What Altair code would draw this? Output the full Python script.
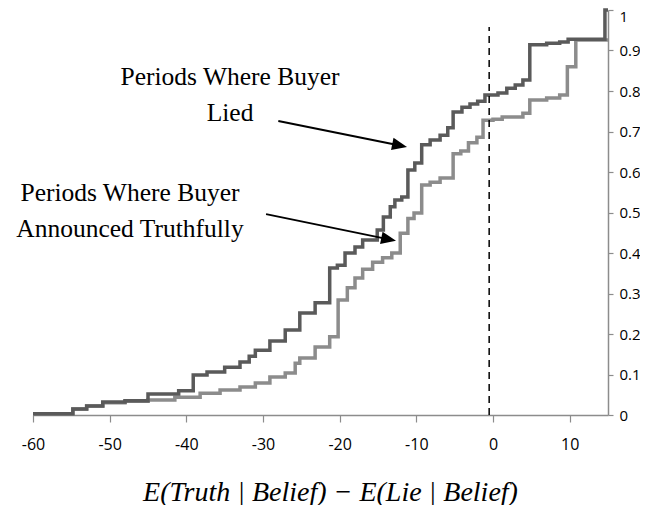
import altair as alt
import pandas as pd

# ---- data ----
lied_x = [-60, -54.8, -53, -50.9, -48, -45, -41, -39.1, -37.3, -35, -33, -31.8, -31, -29.1,
          -27.1, -25.2, -23.2, -21.3, -20.3, -19.3, -18, -17, -15.1, -14.3, -13.4, -12.8,
          -11.9, -11.1, -10.2, -9.3, -8.2, -6.9, -5.9, -5.2, -4.05, -3, -2, -1.05, 0.65,
          1.8, 2.9, 3.9, 4.8, 7, 8.7, 9.8, 14.6, 15]
lied_y = [0.003, 0.015, 0.022, 0.032, 0.035, 0.052, 0.06, 0.099, 0.106, 0.118, 0.131, 0.145,
          0.16, 0.183, 0.21, 0.252, 0.277, 0.363, 0.37, 0.40, 0.415, 0.432, 0.457, 0.489,
          0.514, 0.531, 0.538, 0.605, 0.622, 0.667, 0.679, 0.691, 0.709, 0.748, 0.76, 0.768,
          0.775, 0.79, 0.795, 0.807, 0.815, 0.827, 0.914, 0.918, 0.921, 0.928, 1.0, 1.0]

truth_x = [-60, -54.8, -53, -50.9, -48, -45, -41.5, -38.2, -35.6, -33, -31, -29.1, -27.1,
           -25.8, -25.2, -23.2, -21.3, -20.2, -19, -18, -17, -15.7, -14.4, -13.2, -12.1,
           -11.1, -10.3, -9.3, -8.2, -6.9, -5.2, -4.2, -3.2, -2.1, -1.3, 0, 1.2, 3.9, 4.8,
           7, 8.7, 9.7, 10.8, 15]
truth_y = [0.003, 0.015, 0.022, 0.030, 0.034, 0.037, 0.044, 0.054, 0.062, 0.069, 0.079,
           0.094, 0.104, 0.128, 0.141, 0.168, 0.193, 0.284, 0.314, 0.338, 0.36, 0.377, 0.388,
           0.40, 0.449, 0.485, 0.499, 0.568, 0.575, 0.585, 0.645, 0.652, 0.672, 0.686, 0.728,
           0.73, 0.736, 0.745, 0.778, 0.783, 0.79, 0.86, 0.926, 0.926]

x_ticks = [-60, -50, -40, -30, -20, -10, 0, 10]
y_ticks = [round(i * 0.1, 1) for i in range(11)]

cutoff_x = [-0.5]
cutoff_y = [0.0]
cutoff_y2 = [0.958]

note_text = ["Periods Where Buyer\nLied", "Periods Where Buyer\nAnnounced Truthfully"]
note_x = [-34.3, -47.35]
note_y = [0.815, 0.528]

arrow_x = [-28.0, -29.6]
arrow_y = [0.726, 0.496]
shaft_x2 = [-11.99, -13.42]
shaft_y2 = [0.665, 0.433]
tip_x = [-11.22, -12.65]
tip_y = [0.662, 0.430]

DARK = "#5a5a5a"
LIGHT = "#8c8c8c"
AXIS_GRAY = "#8c8c8c"

xs = alt.Scale(domain=[-60, 15], nice=False, zero=False)
ys = alt.Scale(domain=[0, 1], nice=False, zero=False)

x_axis = alt.Axis(
    values=x_ticks, labelExpr="'' + datum.value", grid=False, labelFlush=False,
    title="E(Truth | Belief) \u2212 E(Lie | Belief)",
    domainColor=AXIS_GRAY, domainWidth=1.5, tickColor=AXIS_GRAY, tickWidth=1.2,
    tickSize=7, labelPadding=14, labelFont="Open Sans", labelFontSize=16,
    labelColor="black", titleFont="Liberation Serif", titleFontStyle="italic",
    titleFontWeight="normal", titleFontSize=28, titleColor="black",
    titleX=297, titleY=85, titleAlign="center", titleBaseline="alphabetic",
)
y_axis = alt.Axis(
    orient="right", values=y_ticks, labelExpr="'' + datum.value", grid=False, title=None,
    labelFlush=False,
    domainColor=AXIS_GRAY, domainWidth=1.5, tickColor=AXIS_GRAY, tickWidth=1.2,
    tickSize=5, labelPadding=6, labelFont="Open Sans", labelFontSize=15,
    labelColor="black",
    labelOffset={"condition": {"test": "datum.value == 1", "value": 6}, "value": 0},
)

X = alt.X("x:Q", scale=xs, axis=x_axis)
Y = alt.Y("y:Q", scale=ys, axis=y_axis)

truth_df = pd.DataFrame({"x": truth_x, "y": truth_y})
lied_df = pd.DataFrame({"x": lied_x, "y": lied_y})
cut_df = pd.DataFrame({"x": cutoff_x, "y": cutoff_y, "y2": cutoff_y2})
note_df = pd.DataFrame({"x": note_x, "y": note_y, "t": note_text})
arrow_df = pd.DataFrame({"x": arrow_x, "y": arrow_y, "x2": shaft_x2, "y2": shaft_y2})
tip_df = pd.DataFrame({"x": tip_x, "y": tip_y})

truth_line = alt.Chart(truth_df).mark_line(
    interpolate="step-after", strokeWidth=3.5, color=LIGHT
).encode(x=X, y=Y)

lied_line = alt.Chart(lied_df).mark_line(
    interpolate="step-after", strokeWidth=3.5, color=DARK
).encode(x=X, y=Y)

cut_rule = alt.Chart(cut_df).mark_rule(
    color="black", strokeWidth=1.5, strokeDash=[7, 5]
).encode(x=X, y=Y, y2="y2:Q")

notes = alt.Chart(note_df).mark_text(
    font="Liberation Serif", fontSize=25.5, align="center", baseline="alphabetic",
    lineBreak="\n", lineHeight=36, color="black"
).encode(x=X, y=Y, text="t:N")

shafts = alt.Chart(arrow_df).mark_rule(color="black", strokeWidth=2).encode(
    x=X, y=Y, x2="x2:Q", y2="y2:Q"
)

heads = alt.Chart(tip_df).mark_point(
    shape="M0,0 L-1,-0.42 L-1,0.42 Z", size=900, filled=True, color="black",
    opacity=1, strokeWidth=0, angle=11.5
).encode(x=X, y=Y)

chart = alt.layer(truth_line, lied_line, cut_rule, notes, shafts, heads).properties(
    width=575, height=405,
    autosize=alt.AutoSizeParams(type="none"),
    padding={"left": 25, "top": 2, "right": 32, "bottom": 90},
    background="white",
).configure_view(stroke=None)

chart.save("out.html", embed_options={"renderer": "svg", "actions": False})
